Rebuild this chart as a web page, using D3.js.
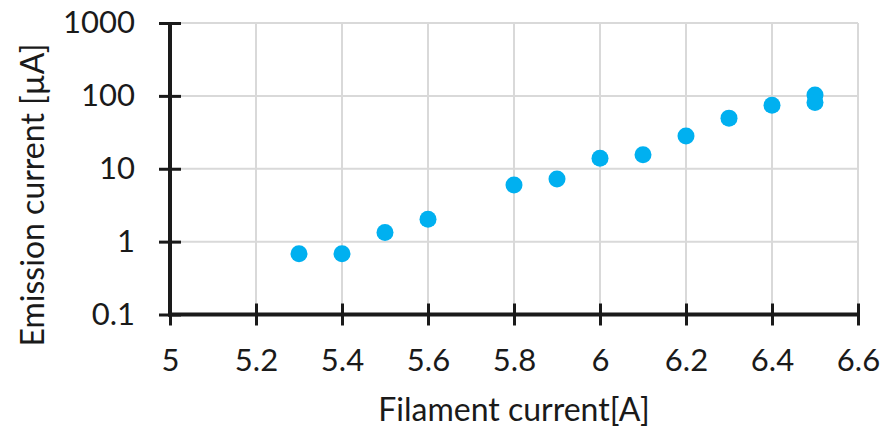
<!DOCTYPE html>
<html><head><meta charset="utf-8">
<script src="https://cdn.jsdelivr.net/npm/d3@7"></script>
<style>body{margin:0;background:#fff}svg{display:block}</style>
</head><body>
<svg id="c" width="887" height="432"></svg>
<script>
const filament = [5.3, 5.4, 5.5, 5.6, 5.8, 5.9, 6.0, 6.1, 6.2, 6.3, 6.4, 6.5, 6.5];
const emission = [0.68, 0.68, 1.33, 2.03, 6.0, 7.25, 13.9, 15.6, 28.2, 49.5, 74.5, 103, 81];
const xTicks = [5, 5.2, 5.4, 5.6, 5.8, 6, 6.2, 6.4, 6.6];
const yTicks = [0.1, 1, 10, 100, 1000];
const xTitle = "Filament current[A]";
const yTitle = "Emission current [µA]";

const svg = d3.select("#c");
const font = "Lato, 'Open Sans', sans-serif";
const x = d3.scaleLinear().domain([5, 6.6]).range([170, 858]);
const y = d3.scaleLog().domain([0.1, 1000]).range([314.5, 23]);

// gridlines
svg.append("g").selectAll("line").data(xTicks.slice(1)).join("line")
  .attr("x1", d => x(d)).attr("x2", d => x(d)).attr("y1", y(1000)).attr("y2", y(0.1))
  .attr("stroke", "#d9d9d9").attr("stroke-width", 2);
svg.append("g").selectAll("line").data(yTicks.slice(1)).join("line")
  .attr("x1", x(5)).attr("x2", x(6.6)).attr("y1", d => y(d)).attr("y2", d => y(d))
  .attr("stroke", "#d9d9d9").attr("stroke-width", 2);

// axes
const xAxis = d3.axisBottom(x).tickValues(xTicks).tickFormat(d3.format("")).tickSizeInner(11).tickSizeOuter(0).tickPadding(23);
const gx = svg.append("g").attr("transform", `translate(0,${y(0.1)})`).call(xAxis);
const yAxis = d3.axisLeft(y).tickValues(yTicks).tickFormat(d => d3.format("")(d)).tickSizeInner(11).tickSizeOuter(0).tickPadding(24);
const gy = svg.append("g").attr("transform", `translate(${x(5)},0)`).call(yAxis);
[gx, gy].forEach(g => {
  g.select(".domain").attr("stroke", "#1a1a1a").attr("stroke-width", 4);
  g.selectAll(".tick line").attr("stroke", "#1a1a1a").attr("stroke-width", 3);
  g.selectAll(".tick text").attr("fill", "#1a1a1a").style("font-family", font).style("font-size", "31px");
});
gx.selectAll(".tick line").attr("y1", -11);
gy.selectAll(".tick line").attr("x1", 11);
gx.select(".domain").attr("d", `M${x(5)-2},0H${x(6.6)}`);
gy.select(".domain").attr("d", `M0,${y(0.1)+2}V${y(1000)}`);

// points
svg.append("g").selectAll("circle").data(filament.map((f, i) => [f, emission[i]])).join("circle")
  .attr("cx", d => x(d[0])).attr("cy", d => y(d[1])).attr("r", 8.5).attr("fill", "#00b0f0");

// titles
svg.append("text").attr("x", 514).attr("y", 421).attr("text-anchor", "middle")
  .style("font-family", font).style("font-size", "32px").attr("fill", "#1a1a1a").text(xTitle);
svg.append("text").attr("transform", "translate(44,195) rotate(-90)").attr("text-anchor", "middle")
  .style("font-family", font).style("font-size", "32px").attr("fill", "#1a1a1a").text(yTitle);
</script>
</body></html>
